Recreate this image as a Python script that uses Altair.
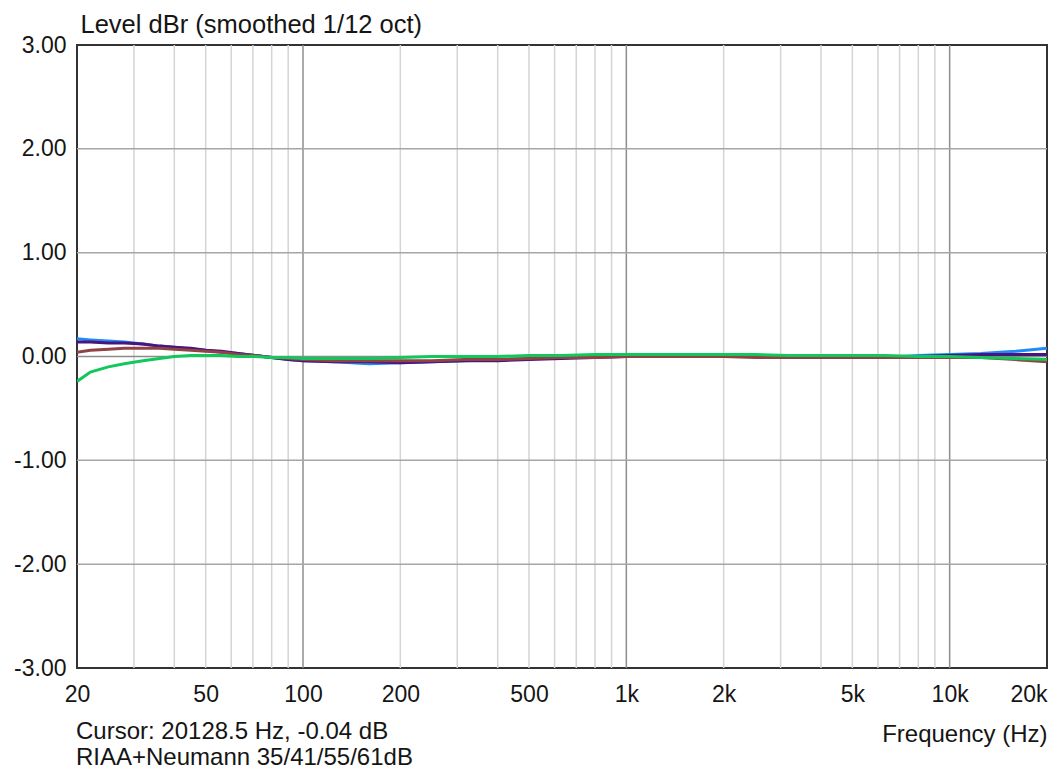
import altair as alt
import pandas as pd

# Frequencies (Hz) of the sampled points
freqs = [20, 22, 25, 28, 32, 36, 40, 45, 50, 56, 63, 71, 80, 90, 100, 125, 160, 200,
         250, 315, 400, 500, 630, 800, 1000, 1250, 1600, 2000, 2500, 3150, 4000, 5000,
         6300, 8000, 10000, 12500, 16000, 20000]

# Level in dBr for each trace
blue = [0.17, 0.16, 0.15, 0.14, 0.12, 0.10, 0.09, 0.07, 0.06, 0.04, 0.03, 0.01, -0.01, -0.03,
        -0.04, -0.05, -0.07, -0.06, -0.05, -0.04, -0.03, -0.02, -0.01, 0.00, 0.01, 0.01, 0.01,
        0.01, 0.00, 0.00, 0.00, 0.00, -0.01, 0.01, 0.02, 0.03, 0.05, 0.08]
purple = [0.14, 0.14, 0.13, 0.13, 0.12, 0.10, 0.09, 0.08, 0.06, 0.05, 0.03, 0.01, -0.01, -0.03,
          -0.04, -0.05, -0.05, -0.06, -0.05, -0.04, -0.04, -0.03, -0.02, -0.01, 0.00, 0.01, 0.00,
          0.00, 0.00, -0.01, -0.01, -0.01, -0.01, 0.00, 0.01, 0.02, 0.02, 0.02]
brown = [0.04, 0.06, 0.07, 0.08, 0.08, 0.08, 0.07, 0.06, 0.05, 0.04, 0.02, 0.01, -0.01, -0.02,
         -0.03, -0.04, -0.04, -0.04, -0.04, -0.03, -0.03, -0.02, -0.01, -0.01, 0.00, 0.00, 0.00,
         0.00, -0.01, -0.01, -0.01, -0.01, -0.01, -0.01, -0.01, -0.01, -0.03, -0.05]
green = [-0.24, -0.15, -0.10, -0.07, -0.04, -0.02, 0.00, 0.01, 0.01, 0.01, 0.00, 0.00, -0.01, -0.01,
         -0.02, -0.02, -0.02, -0.01, 0.00, 0.00, 0.00, 0.01, 0.01, 0.02, 0.02, 0.02, 0.02,
         0.02, 0.02, 0.01, 0.01, 0.01, 0.01, 0.00, 0.00, -0.01, -0.02, -0.03]

series_names = ["35dB", "41dB", "55dB", "61dB"]
series_values = [blue, purple, brown, green]
series_colors = ["#1e8cf5", "#4b1280", "#8e4444", "#12c85c"]

x_ticks = [20, 50, 100, 200, 500, 1000, 2000, 5000, 10000, 20000]
y_ticks = [-3, -2, -1, 0, 1, 2, 3]
minor_grid = [30, 40, 50, 60, 70, 80, 90, 200, 300, 400, 500, 600, 700, 800, 900,
              2000, 3000, 4000, 5000, 6000, 7000, 8000, 9000]
major_grid = [100, 1000, 10000]
h_grid = [-2, -1, 1, 2]
zero_line = [0]

y_title = "Level dBr (smoothed 1/12 oct)"
x_title = "Frequency (Hz)"
cursor_text = "Cursor: 20128.5 Hz, -0.04 dB"
note_text = "RIAA+Neumann 35/41/55/61dB"

FONT = "Liberation Sans"
TXT = "#151515"
W = 970
H = 623

rows = []
for name, vals in zip(series_names, series_values):
    for f, v in zip(freqs, vals):
        rows.append({"trace": name, "freq": f, "level": v})
df = pd.DataFrame(rows)

xscale = alt.Scale(type="log", domain=[20, 20000], nice=False)
yscale = alt.Scale(domain=[-3, 3], nice=False)

xaxis = alt.Axis(
    values=x_ticks,
    labelExpr="datum.value >= 1000 ? format(datum.value/1000, 'd') + 'k' : format(datum.value, 'd')",
    labelFont=FONT,
    labelFontSize=23,
    labelColor=TXT,
    labelPadding=15,
    labelFlush=False,
    labelOverlap=False,
    labelAlign={"condition": {"test": "datum.value >= 20000", "value": "right"}, "value": "center"},
    ticks=False,
    domain=False,
    grid=False,
    title=x_title,
    titleFont=FONT,
    titleFontSize=24,
    titleFontWeight="normal",
    titleColor=TXT,
    titleAlign="right",
    titleBaseline="alphabetic",
    titleX=W,
    titleY=73,
)

yaxis = alt.Axis(
    values=y_ticks,
    labelExpr="(datum.value < 0 ? '-' : '') + format(abs(datum.value), '.2f')",
    labelFont=FONT,
    labelFontSize=23,
    labelColor=TXT,
    labelPadding=11,
    labelBaseline="middle",
    labelOverlap=False,
    ticks=False,
    domain=False,
    grid=False,
    title=y_title,
    titleFont=FONT,
    titleFontSize=25.5,
    titleFontWeight="normal",
    titleColor=TXT,
    titleAngle=0,
    titleAlign="left",
    titleBaseline="alphabetic",
    titleX=3,
    titleY=-13,
)

vminor = alt.Chart(pd.DataFrame({"freq": minor_grid})).mark_rule(
    color="#d4d4d4", strokeWidth=1.5
).encode(x=alt.X("freq:Q", scale=xscale, axis=xaxis))

vmajor = alt.Chart(pd.DataFrame({"freq": major_grid})).mark_rule(
    color="#8e8e8e", strokeWidth=1.5
).encode(x=alt.X("freq:Q", scale=xscale, axis=xaxis))

hgrid = alt.Chart(pd.DataFrame({"level": h_grid})).mark_rule(
    color="#a6a6a6", strokeWidth=1.5
).encode(y=alt.Y("level:Q", scale=yscale, axis=yaxis))

zline = alt.Chart(pd.DataFrame({"level": zero_line})).mark_rule(
    color="#8a8a8a", strokeWidth=1.5
).encode(y=alt.Y("level:Q", scale=yscale, axis=yaxis))

lines = alt.Chart(df).mark_line(strokeWidth=3, clip=True).encode(
    x=alt.X("freq:Q", scale=xscale, axis=xaxis),
    y=alt.Y("level:Q", scale=yscale, axis=yaxis),
    color=alt.Color(
        "trace:N",
        scale=alt.Scale(domain=series_names, range=series_colors),
        legend=None,
    ),
)

cursor = alt.Chart(pd.DataFrame({"t": [cursor_text]})).mark_text(
    font=FONT, fontSize=24, color=TXT, align="left", baseline="alphabetic"
).encode(text="t:N", x=alt.value(-1), y=alt.value(694))

note = alt.Chart(pd.DataFrame({"t": [note_text]})).mark_text(
    font=FONT, fontSize=24, color=TXT, align="left", baseline="alphabetic"
).encode(text="t:N", x=alt.value(-1), y=alt.value(720))

chart = alt.layer(vminor, vmajor, hgrid, zline, lines, cursor, note).properties(
    width=W,
    height=H,
    autosize=alt.AutoSizeParams(type="none"),
    padding={"left": 69, "top": 37, "right": 1, "bottom": 102},
    background="white",
).configure_view(
    stroke="#333333",
    strokeWidth=2,
)

chart.save("out.html", embed_options={"renderer": "svg", "actions": False})
